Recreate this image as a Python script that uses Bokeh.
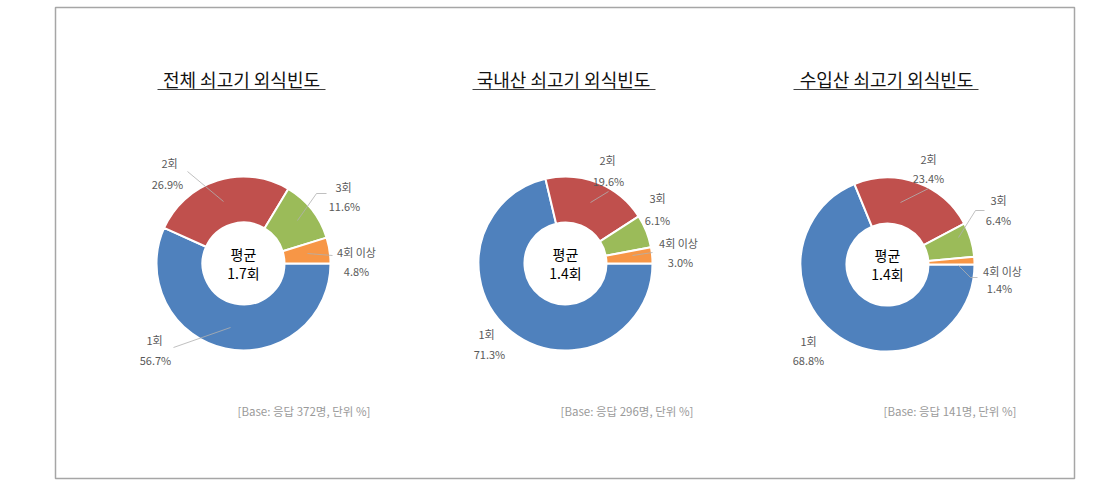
import math
from bokeh.plotting import figure
from bokeh.models import Range1d, ColumnDataSource
from bokeh.core.properties import value
from bokeh.embed import file_html
from bokeh.resources import INLINE

# ---------------- data ----------------
categories = ["1회", "2회", "3회", "4회 이상"]
total_values = [56.7, 26.9, 11.6, 4.8]
domestic_values = [71.3, 19.6, 6.1, 3.0]
imported_values = [68.8, 23.4, 6.4, 1.4]
titles = ["전체 쇠고기 외식빈도", "국내산 쇠고기 외식빈도", "수입산 쇠고기 외식빈도"]
averages = ["1.7회", "1.4회", "1.4회"]
base_notes = ["[Base: 응답 372명, 단위 %]", "[Base: 응답 296명, 단위 %]", "[Base: 응답 141명, 단위 %]"]
colors = ["#4F81BD", "#C0504D", "#9BBB59", "#F79646"]

series = [total_values, domestic_values, imported_values]

# ---------------- layout (pixel positions from top-left) ----------------
W, H = 1115, 498
def Y(py):
    return H - py

centers = [(243, 263), (565, 263), (887, 264)]
outer_r = 87
inner_r = 41
title_pos = [(241, 78), (563, 78), (886, 78)]
title_ul = [(157, 325), (472, 655), (793, 978)]
base_pos = [(237, 410), (560, 410), (883, 410)]

# label positions: (name_x, name_y, pct_x, pct_y) per category, per chart
label_pos = [
    [(154, 339, 155, 359), (169, 162, 167, 183), (343, 186, 344, 205), (356, 251, 356, 270)],
    [(486, 333, 489, 353), (607, 159, 608, 180), (657, 197, 657, 219), (678, 242, 680, 261)],
    [(808, 340, 808, 359), (928, 158, 928, 177), (998, 199, 998, 219), (1002, 270, 999, 287)],
]
leaders = [
    [[(173, 347), (230, 327)], [(187, 171), (223, 201)], [(326, 193), (316, 193), (297, 220)], [(332, 255), (307, 253)]],
    [None, [(590, 202), (608, 191)], None, [(632, 255), (652, 252)]],
    [None, [(900, 202), (928, 188)], [(958, 237), (975, 210), (984, 210)], [(958, 265), (970, 277), (977, 277)]],
]

FONT = value("Noto Sans CJK KR")

p = figure(width=W, height=H, x_range=Range1d(0, W), y_range=Range1d(0, H),
           output_backend="svg", toolbar_location=None, min_border=0)
p.axis.visible = False
p.grid.visible = False
p.outline_line_color = None
p.background_fill_color = "white"
p.border_fill_color = "white"

# outer border
p.quad(left=55, right=1074, top=Y(7), bottom=Y(478), fill_color=None,
       line_color="#a6a6a6", line_width=1.5)

for i, vals in enumerate(series):
    cx, cy = centers[i]
    total = sum(vals)
    # counter-clockwise from 3 o'clock, last category first
    starts, ends = [0.0] * len(vals), [0.0] * len(vals)
    acc = 0.0
    for k in reversed(range(len(vals))):
        starts[k] = acc / total * 2 * math.pi
        acc += vals[k]
        ends[k] = acc / total * 2 * math.pi
    src = ColumnDataSource(dict(x=[cx] * len(vals), y=[Y(cy)] * len(vals),
                                start=starts, end=ends, color=colors, cat=categories, val=vals))
    p.annular_wedge(x="x", y="y", inner_radius=inner_r, outer_radius=outer_r,
                    start_angle="start", end_angle="end", fill_color="color",
                    line_color="white", line_width=2, source=src)

    # leader lines
    for ld in leaders[i]:
        if ld:
            p.line([pt[0] for pt in ld], [Y(pt[1]) for pt in ld], line_color="#b0b0b0",
                   line_alpha=0.8, line_width=1)

    # labels
    names_x, names_y, pct_x, pct_y, pct_txt = [], [], [], [], []
    for k, cat in enumerate(categories):
        nx, ny, px, py = label_pos[i][k]
        names_x.append(nx); names_y.append(Y(ny))
        pct_x.append(px); pct_y.append(Y(py))
        pct_txt.append(f"{vals[k]:.1f}%")
    p.text(names_x, names_y, text=categories, text_font=FONT, text_font_size="11px",
           text_color="#595959", text_align="center", text_baseline="middle")
    p.text(pct_x, pct_y, text=pct_txt, text_font=FONT, text_font_size="11px",
           text_color="#595959", text_align="center", text_baseline="middle")

    # center text
    p.text([cx, cx], [Y(cy - 10), Y(cy + 9)], text=["평균", averages[i]], text_font=FONT,
           text_font_size="14px", text_color="#000000", text_align="center", text_baseline="middle")

    # title + underline
    tx, ty = title_pos[i]
    p.text([tx], [Y(ty)], text=[titles[i]], text_font=FONT, text_font_size="18px",
           text_color="#111111", text_align="center", text_baseline="middle")
    ul = title_ul[i]
    p.line([ul[0], ul[1]], [Y(89), Y(89)], line_color="#404040", line_width=1)

    # base note
    bx, by = base_pos[i]
    p.text([bx], [Y(by)], text=[base_notes[i]], text_font=FONT, text_font_size="11.5px",
           text_color="#9a9a9a", text_align="left", text_baseline="middle")

open("out.html", "w").write(file_html(p, INLINE))
